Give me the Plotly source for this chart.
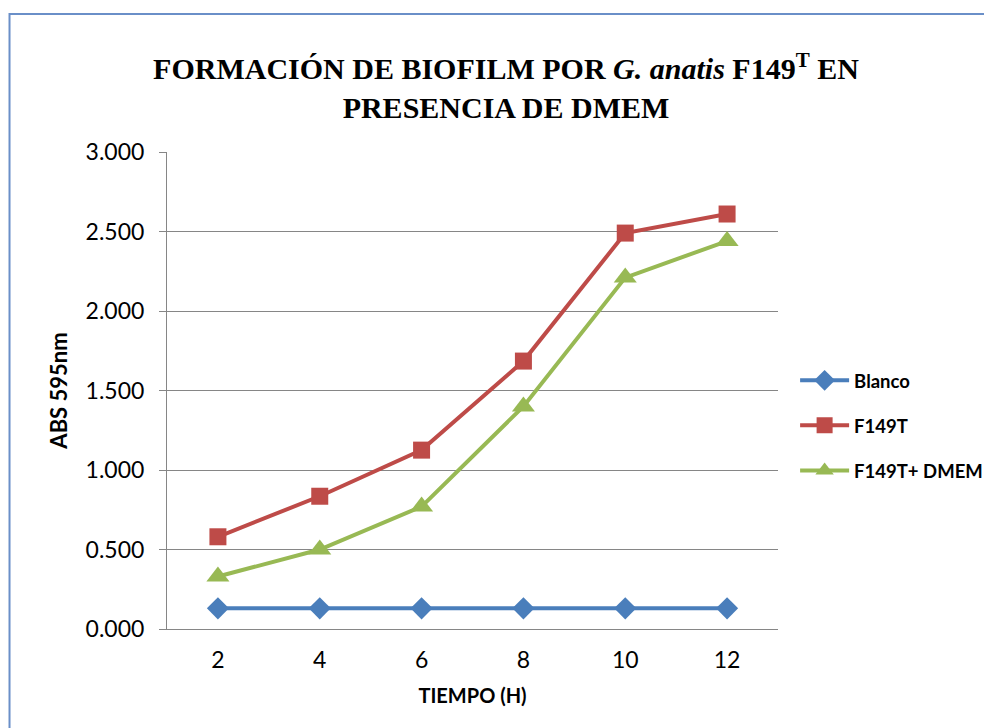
import plotly.graph_objects as go

tiempo = ["2", "4", "6", "8", "10", "12"]
blanco = [0.13, 0.13, 0.13, 0.13, 0.13, 0.13]
f149t = [0.58, 0.835, 1.125, 1.685, 2.49, 2.61]
f149t_dmem = [0.33, 0.50, 0.77, 1.40, 2.21, 2.44]
y_ticks = [0, 0.5, 1.0, 1.5, 2.0, 2.5, 3.0]
y_tick_labels = ["0.000", "0.500", "1.000", "1.500", "2.000", "2.500", "3.000"]

font_sans = "Lato, Open Sans, sans-serif"

L, R, T, B = 159, 220, 144, 107
PW, PH = 992 - L - R, 728 - T - B

fig = go.Figure()
fig.add_trace(go.Scatter(x=tiempo, y=blanco, name="Blanco", mode="lines+markers",
                         legendgroup="a",
                         line=dict(color="#4A7EBB", width=4),
                         marker=dict(symbol="diamond", size=17, color="#4A7EBB")))
fig.add_trace(go.Scatter(x=tiempo, y=f149t, name="F149T", mode="lines+markers",
                         legendgroup="b",
                         line=dict(color="#BE4B48", width=4),
                         marker=dict(symbol="square", size=17, color="#BE4B48")))
fig.add_trace(go.Scatter(x=tiempo, y=f149t_dmem, name="F149T+ DMEM", mode="lines+markers",
                         legendgroup="c",
                         line=dict(color="#98B954", width=4),
                         marker=dict(symbol="triangle-up", size=20, color="#98B954")))

fig.update_layout(
    width=992, height=728,
    margin=dict(l=L, r=R, t=T, b=B),
    paper_bgcolor="white", plot_bgcolor="white",
    title=dict(
        text="FORMACIÓN DE BIOFILM POR <i>G. anatis</i> F149<sup>T</sup> EN<br>PRESENCIA DE DMEM",
        x=0.502, xanchor="center", y=0.902, yanchor="middle",
        font=dict(family="Liberation Serif, DejaVu Serif, serif", size=30, color="black", weight="bold"),
    ),
    xaxis=dict(
        type="category", showgrid=False, showline=True, linecolor="#868686", linewidth=1,
        ticks="", ticklabelstandoff=10, tickfont=dict(family=font_sans, size=23, color="black"),
        title=dict(text="<b>TIEMPO (H)</b>", font=dict(family=font_sans, size=20, color="black"), standoff=17),
        range=[-0.5, 5.5],
    ),
    yaxis=dict(
        range=[0, 3.0], tickvals=y_ticks, ticktext=y_tick_labels,
        showgrid=True, gridcolor="#868686", gridwidth=1,
        showline=True, linecolor="#868686", linewidth=1,
        ticks="outside", ticklen=7, tickcolor="#868686", ticklabelstandoff=10,
        tickfont=dict(family=font_sans, size=23, color="black"),
        title=dict(text="<b>ABS 595nm</b>", font=dict(family=font_sans, size=22, color="black"), standoff=11),
        zeroline=False,
    ),
    legend=dict(
        x=1.028, xanchor="left", y=0.426, yanchor="middle",
        font=dict(family=font_sans, size=18.5, color="black", weight="bold"),
        itemwidth=49, tracegroupgap=18, bgcolor="rgba(0,0,0,0)",
    ),
    showlegend=True,
)

# Chart area border
fig.add_shape(type="rect", xref="paper", yref="paper",
              x0=(1 - L) / PW, x1=(1010 - L) / PW,
              y0=(T + PH - 740) / PH, y1=(T + PH - 6) / PH,
              line=dict(color="#6A8FC8", width=2), fillcolor="rgba(0,0,0,0)", layer="below")

fig.write_html("out.html")
